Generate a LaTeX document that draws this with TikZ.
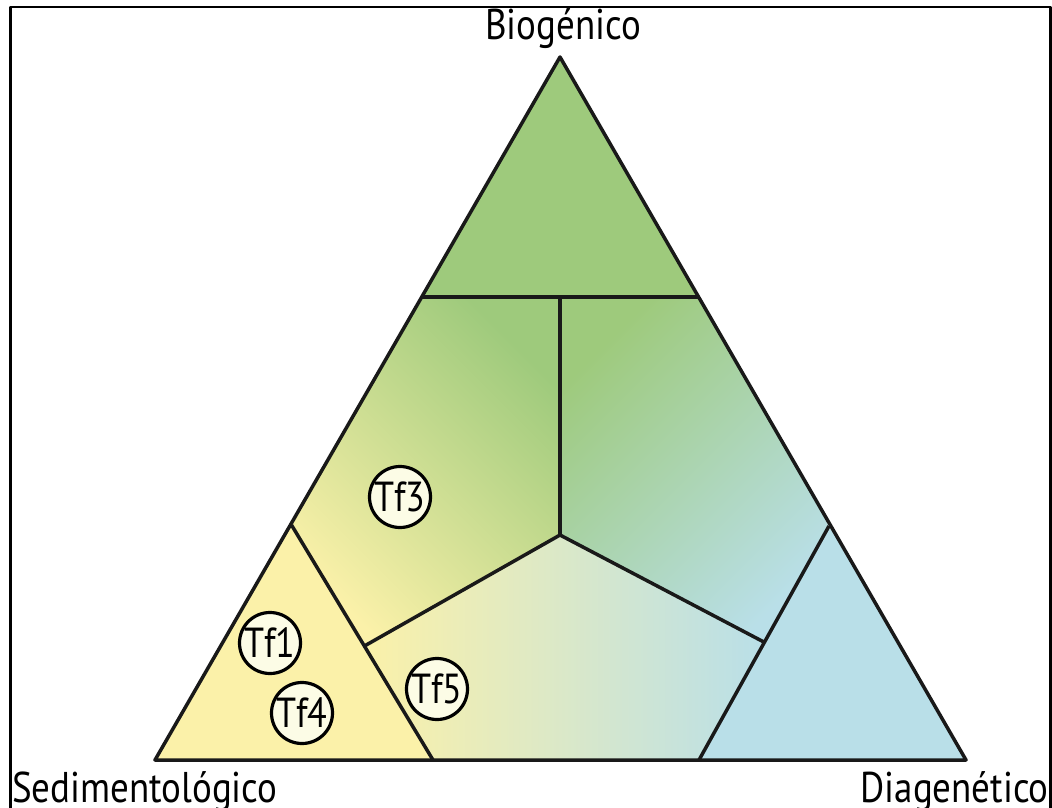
\documentclass[tikz,border=0pt]{standalone}
\usepackage{fontspec}
\usetikzlibrary{calc}
\setmainfont[FakeStretch=0.86]{PT Sans}
\begin{document}
\begin{tikzpicture}[x=1pt,y=-1pt,line join=round,
  edge/.style={draw=black!90,line width=3.5pt},
  tf/.style={circle,draw=black,line width=3.2pt,fill=cream,minimum size=61pt,inner sep=0pt,font=\fontsize{42}{44}\selectfont},
  lab/.style={inner sep=0pt,font=\fontsize{43}{45}\selectfont}]
\definecolor{cgreen}{HTML}{9ECA7C}
\definecolor{cyellow}{HTML}{FBF1A9}
\definecolor{cblue}{HTML}{B9DFE8}
\definecolor{cream}{HTML}{FCFCE6}
\useasboundingbox (0,0) rectangle (1052,808);
\fill[white] (0,0) rectangle (1052,808);
% frame
\draw[line width=2.5pt] (10.5,808) |- (1050.5,7) -- (1050.5,808);
% points
\coordinate (A) at (560,57);
\coordinate (L) at (155,760);
\coordinate (R) at (966,760);
\coordinate (P1) at (422,297);
\coordinate (P2) at (698,297);
\coordinate (M) at (560,297);
\coordinate (C) at (560,535);
\coordinate (Q1) at (291.5,525);
\coordinate (Q2) at (433,760);
\coordinate (Q3) at (829,526);
\coordinate (Q4) at (699,760);
\coordinate (S1) at ($(Q1)!0.515!(Q2)$);
\coordinate (S2) at ($(Q3)!0.497!(Q4)$);
% fills
\fill[cgreen] (A) -- (P1) -- (P2) -- cycle;
\fill[cyellow] (L) -- (Q1) -- (Q2) -- cycle;
\fill[cblue] (R) -- (Q3) -- (Q4) -- cycle;
\shade[left color=cyellow,right color=cgreen,shading angle=135] (P1) -- (M) -- (C) -- (S1) -- (Q1) -- cycle;
\shade[left color=cgreen,right color=cblue,shading angle=45] (M) -- (P2) -- (Q3) -- (S2) -- (C) -- cycle;
\shade[left color=cyellow,right color=cblue] (C) -- (S2) -- (Q4) -- (Q2) -- (S1) -- cycle;
% lines
\draw[edge] (A) -- (L) -- (R) -- cycle;
\draw[edge] (P1) -- (P2);
\draw[edge] (M) -- (C);
\draw[edge] (Q1) -- (Q2);
\draw[edge] (Q3) -- (Q4);
\draw[edge] (S1) -- (C) -- (S2);
% circles
\node[tf] (t3) at (400,497) {Tf3};
\node[tf] (t1) at (270,643) {Tf1};
\node[tf] (t4) at (302,713) {Tf4};
\node[tf] (t5) at (437,689) {Tf5};
% labels
\node[lab,anchor=base] (bio) at (563,40) {Biogénico};
\node[lab,anchor=base west] (sed) at (12,802) {Sedimentológico};
\node[lab,anchor=base east] (dia) at (1049,802) {Diagenético};
\end{tikzpicture}
\end{document}
